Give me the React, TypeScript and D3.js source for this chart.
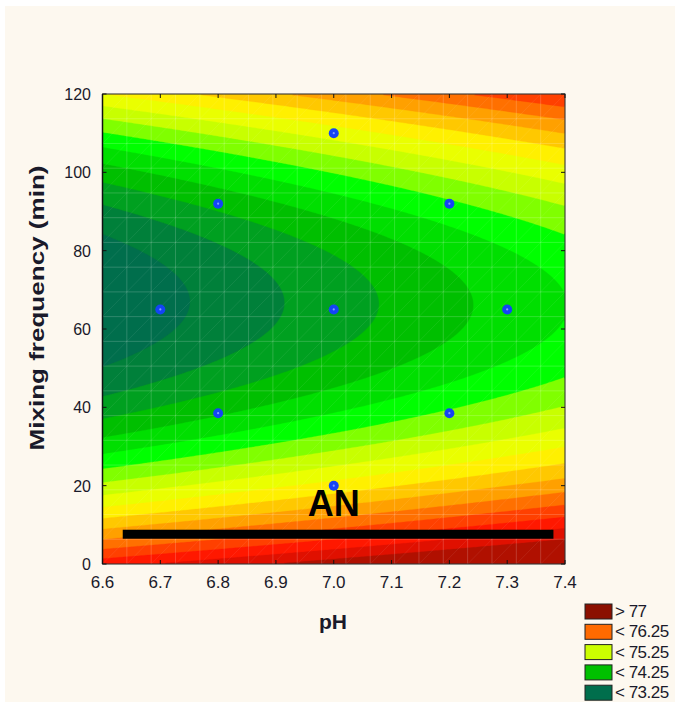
import React, { useMemo } from "react";
import * as d3 from "d3";

// ---- data ----
const phTicks = [6.6, 6.7, 6.8, 6.9, 7.0, 7.1, 7.2, 7.3, 7.4];
const mixTicks = [0, 20, 40, 60, 80, 100, 120];
const designPH = [6.7, 6.8, 6.8, 7.0, 7.0, 7.0, 7.2, 7.2, 7.3];
const designMix = [65, 92, 38.5, 110, 65, 20, 92, 38.5, 65];
// fitted surface (u = (pH-7)/0.1, v = (mix-65)/10):
// intercept, pH slope, pH^2, ridge offset, ridge shift per u, mix curvature, curvature change per u
const surfaceCoef = [73.63, 0.153, 0, 0.157, -0.017, 0.079, -0.0003];
const levels = [73.25, 73.5, 73.75, 74, 74.25, 74.5, 74.75, 75, 75.25, 75.5, 75.75, 76, 76.25, 76.5, 76.75, 77];
const bandColors = [
  "#006e4c", "#00803a", "#00a020", "#00bf00", "#00df00", "#00ff00", "#80ff00", "#c8ff00",
  "#eaff00", "#fff000", "#ffc800", "#ffa000", "#ff7000", "#ff4000", "#ff1800", "#e01000", "#b01000",
];
const legendLabels = ["> 77", "< 76.25", "< 75.25", "< 74.25", "< 73.25"];
const legendColors = ["#8b1000", "#ff6a00", "#ccff00", "#00c000", "#006e4c"];
const barPH = [6.635, 7.38];
const barMix = 7.6;
const annotation = { text: "AN", ph: 7.0, mix: 12.2 };

const W = 675, H = 702;
const L = 102.5, R = 565, T = 94, B = 564;
const FONT = "'Liberation Sans', Arial, sans-serif";

function surface(ph: number, mix: number) {
  const [a, b, d, v0, v1, e0, e1] = surfaceCoef;
  const u = (ph - 7) / 0.1;
  const v = (mix - 65) / 10 - (v0 + v1 * u);
  return a + b * u + d * u * u + (e0 + e1 * u) * v * v;
}

export default function App() {
  const x = d3.scaleLinear().domain([6.6, 7.4]).range([L, R]);
  const y = d3.scaleLinear().domain([0, 120]).range([B, T]);

  const contourPaths = useMemo(() => {
    const nx = 231, ny = 235;
    const sx = (R - L) / nx, sy = (B - T) / ny;
    const vals = new Array(nx * ny);
    for (let j = 0; j < ny; j++) {
      for (let i = 0; i < nx; i++) {
        const px = L + (i + 0.5) * sx;
        const py = T + (j + 0.5) * sy;
        vals[j * nx + i] = surface(x.invert(px), y.invert(py));
      }
    }
    const gen = d3.contours().size([nx, ny]).thresholds(levels);
    const polys = gen(vals);
    const path = d3.geoPath(
      d3.geoTransform({
        point: function (px: number, py: number) {
          (this as any).stream.point(L + px * sx, T + py * sy);
        },
      })
    );
    return polys.map((p, k) => ({ d: path(p as any) || "", color: bandColors[k + 1] }));
  }, []);

  const nGrid = 19;
  const gx = d3.range(nGrid + 1).map((k) => L + (k * (R - L)) / nGrid);
  const gy = d3.range(nGrid + 1).map((k) => T + (k * (B - T)) / nGrid);

  return (
    <svg width={W} height={H} style={{ position: "absolute", left: 0, top: 0 }}>
      <rect x={0} y={0} width={W} height={H} fill="#ffffff" />
      <rect x={5} y={6} width={W - 5} height={H - 6} fill="#fdf8ef" />
      <defs>
        <clipPath id="plotclip">
          <rect x={L} y={T} width={R - L} height={B - T} />
        </clipPath>
      </defs>
      <g clipPath="url(#plotclip)">
        <rect x={L} y={T} width={R - L} height={B - T} fill={bandColors[0]} />
        {contourPaths.map((c, i) => (
          <path key={i} d={c.d} fill={c.color} stroke={c.color} strokeWidth={0.3} />
        ))}
        {gx.map((gxv, i) => (
          <line key={"gv" + i} x1={gxv} x2={gxv} y1={T} y2={B} stroke="#ffffff" strokeOpacity={0.18} strokeWidth={1} />
        ))}
        {gy.map((gyv, i) => (
          <line key={"gh" + i} x1={L} x2={R} y1={gyv} y2={gyv} stroke="#ffffff" strokeOpacity={0.18} strokeWidth={1} />
        ))}
        {gx.slice(0, -1).map((gxv, i) =>
          gy.slice(0, -1).map((gyv, j) => (
            <line key={"gd" + i + "-" + j} x1={gxv} y1={gy[j + 1]} x2={gx[i + 1]} y2={gyv} stroke="#ffffff" strokeOpacity={0.07} strokeWidth={1} />
          ))
        )}
      </g>
      {/* frame */}
      <rect x={L} y={T} width={R - L} height={B - T} fill="none" stroke="#222" strokeWidth={1} />
      <line x1={L} x2={L} y1={T} y2={B} stroke="#111" strokeWidth={1.5} />
      {/* ticks */}
      {phTicks.map((t) => (
        <g key={"xt" + t}>
          <line x1={x(t)} x2={x(t)} y1={B} y2={B - 4} stroke="#111" />
          <line x1={x(t)} x2={x(t)} y1={T} y2={T + 4} stroke="#111" />
          <text x={x(t)} y={588} textAnchor="middle" fontFamily={FONT} fontSize={17} fill="#1a1a2a">
            {t.toFixed(1)}
          </text>
        </g>
      ))}
      {mixTicks.map((t) => (
        <g key={"yt" + t}>
          <line x1={L} x2={L + 4} y1={y(t)} y2={y(t)} stroke="#111" />
          <line x1={R} x2={R - 4} y1={y(t)} y2={y(t)} stroke="#111" />
          <text x={91} y={y(t) + 6} textAnchor="end" fontFamily={FONT} fontSize={16} fill="#1a1a2a">
            {t}
          </text>
        </g>
      ))}
      {/* axis titles */}
      <text x={333} y={629} textAnchor="middle" fontFamily={FONT} fontSize={21} fontWeight="bold" fill="#1a1a2a">
        pH
      </text>
      <text
        transform={`translate(44, 308) rotate(-90)`}
        textAnchor="middle"
        fontFamily={FONT}
        fontSize={21}
        fontWeight="bold"
        fill="#1a1a2a"
        textLength={285}
        lengthAdjust="spacingAndGlyphs"
      >
        Mixing frequency (min)
      </text>
      {/* annotation bar */}
      <rect x={x(barPH[0])} y={y(barMix) - 4.5} width={x(barPH[1]) - x(barPH[0])} height={9} fill="#000" />
      <text x={x(annotation.ph)} y={y(annotation.mix)} textAnchor="middle" fontFamily={FONT} fontSize={36} fontWeight="bold" fill="#000">
        {annotation.text}
      </text>
      {/* design points */}
      {designPH.map((p, i) => (
        <g key={"pt" + i}>
          <circle cx={x(p)} cy={y(designMix[i])} r={5} fill="#1444f5" />
          <circle cx={x(p)} cy={y(designMix[i])} r={1.1} fill="#7fa0ff" />
        </g>
      ))}
      {/* legend */}
      {legendLabels.map((lab, i) => (
        <g key={"lg" + i}>
          <rect x={585} y={604 + i * 20.3} width={27} height={15} fill={legendColors[i]} stroke="#222" strokeWidth={1} />
          <text x={615} y={617 + i * 20.3} fontFamily={FONT} fontSize={17} fill="#1a1a2a" letterSpacing={-0.5}>
            {lab}
          </text>
        </g>
      ))}
    </svg>
  );
}
